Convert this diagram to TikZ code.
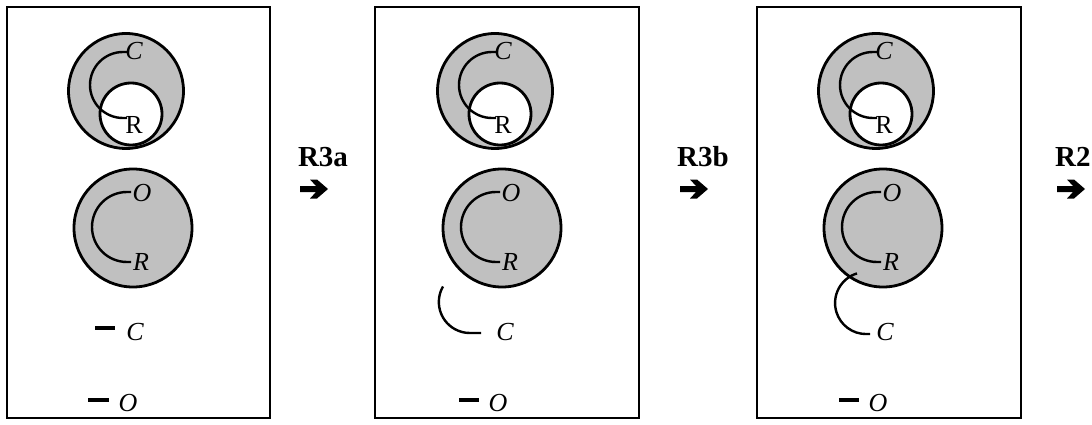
\documentclass[tikz,border=0pt]{standalone}
\usepackage{fontspec}
\setmainfont{Liberation Serif}
\definecolor{cellgray}{HTML}{C0C0C0}
\begin{document}
\begin{tikzpicture}[x=1pt,y=1pt,
  panel/.style={draw, line width=2.6pt},
  cell/.style={circle, draw, line width=2.8pt, fill=cellgray, inner sep=0pt, minimum size=#1},
  hole/.style={circle, draw, line width=2.8pt, fill=white, inner sep=0pt, minimum size=62pt},
  strand/.style={line width=2.4pt},
  bar/.style={line width=3.4pt},
  lab/.style={font=\fontsize{26}{30}\selectfont\itshape, inner sep=0pt},
  rom/.style={font=\fontsize{26}{30}\selectfont, inner sep=0pt},
  steplab/.style={font=\fontsize{29}{34}\selectfont\bfseries, inner sep=0pt},
  heavyarr/.pic={\fill (0,3)--(16,3)--(10,9.5)--(17,9.5)--(28,0)--(17,-9.5)--(10,-9.5)--(16,-3)--(0,-3)--cycle;}
]
\useasboundingbox (0,0) rectangle (1092,-425);

% panels
\draw[panel] (7,-7) rectangle (270,-418);
\draw[panel] (375,-7) rectangle (639,-418);
\draw[panel] (757,-7) rectangle (1021,-418);

% repeated cells
\foreach \dx/\p in {0/A,369/B,750/C}{
  \node[cell=115pt] (top\p) at (126+\dx,-91) {};
  \node[hole] (hole\p) at (131+\dx,-114) {};
  \draw[strand] (127+\dx,-52) -- (123+\dx,-52) arc[start angle=90,end angle=270,radius=33] -- (127+\dx,-118);
  \node[lab] (c\p) at (134+\dx,-51) {C};
  \node[rom] (r\p) at (134+\dx,-125) {R};
  \node[cell=118pt] (bot\p) at (133+\dx,-228) {};
  \draw[strand] (131+\dx,-192) -- (127+\dx,-192) arc[start angle=90,end angle=270,radius=35] -- (131+\dx,-262);
  \node[lab] (o\p) at (142+\dx,-193) {O};
  \node[lab] (rr\p) at (141+\dx,-262) {R};
}

% panel 1 free parts
\draw[bar] (95,-328) -- (115,-328);
\node[lab] (freeCA) at (135,-332) {C};
\draw[bar] (88,-400) -- (109,-400);
\node[lab] (freeOA) at (128,-403) {O};

% panel 2 free parts
\draw[strand] (443,-286.5) arc[start angle=150,end angle=270,radius=31] -- (481,-333);
\node[lab] (freeCB) at (505,-332) {C};
\draw[bar] (459,-400) -- (479,-400);
\node[lab] (freeOB) at (498,-403) {O};

% panel 3 free parts
\draw[strand] (857,-273.4) arc[start angle=107,end angle=270,radius=31] -- (870,-334);
\node[lab] (freeCC) at (885,-332) {C};
\draw[bar] (839,-400) -- (859,-400);
\node[lab] (freeOC) at (878,-403) {O};

% reaction arrows
\node[steplab] (r3a) at (323,-157) {R3a};
\pic at (300,-189) {heavyarr};
\node[steplab] (r3b) at (703,-157) {R3b};
\pic at (680,-189) {heavyarr};
\node[steplab, anchor=west] (r2) at (1055,-157) {R2};
\pic at (1057,-189) {heavyarr};
\end{tikzpicture}
\end{document}
